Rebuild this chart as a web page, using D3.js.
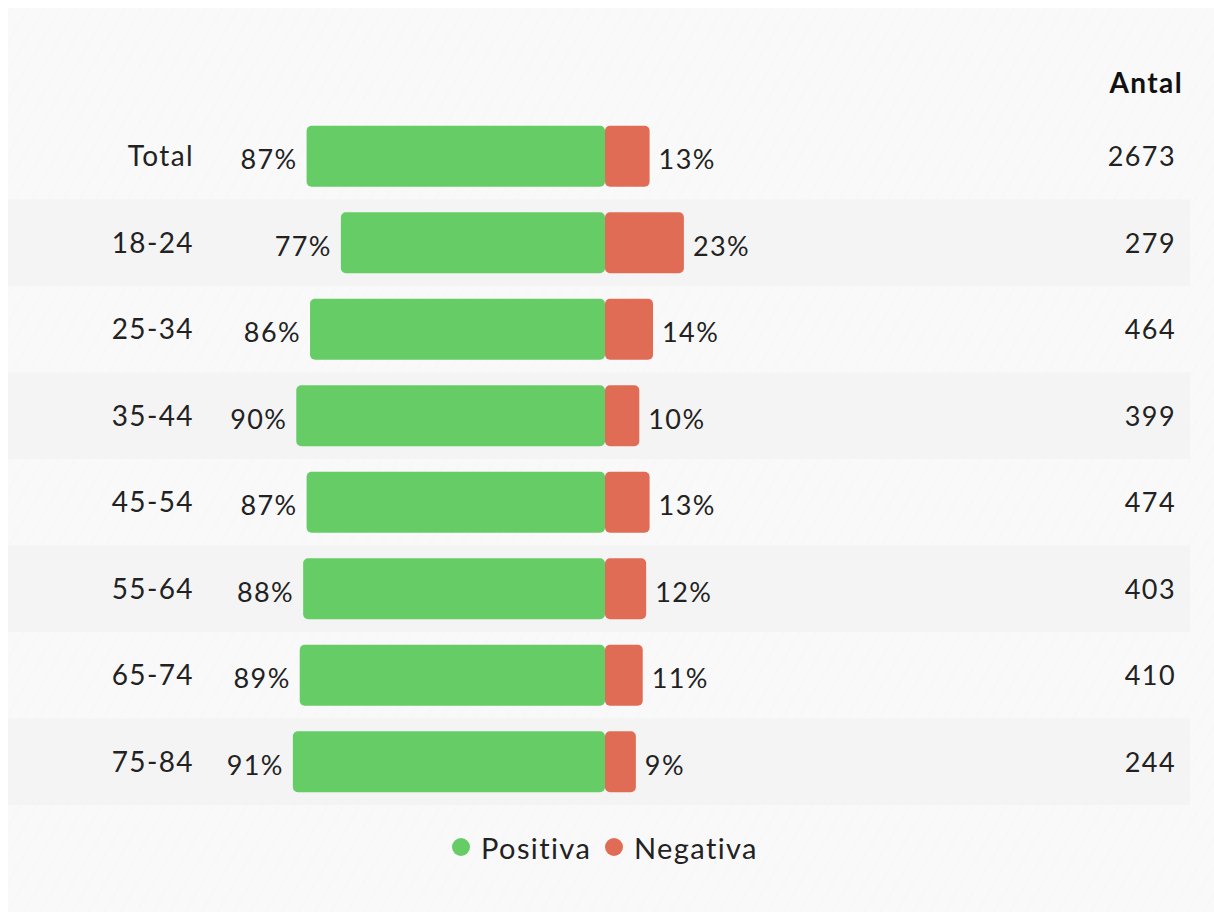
<!DOCTYPE html>
<html>
<head>
<meta charset="utf-8">
<script src="https://cdn.jsdelivr.net/npm/d3@7"></script>
<style>
  body { margin: 0; background: #fff; }
  svg { display: block; font-family: Lato, "Open Sans", sans-serif; }
  text { letter-spacing: 1.4px; }
</style>
</head>
<body>
<script>
const categories = ["Total", "18-24", "25-34", "35-44", "45-54", "55-64", "65-74", "75-84"];
const positive = [87, 77, 86, 90, 87, 88, 89, 91];
const negative = [13, 23, 14, 10, 13, 12, 11, 9];
const antal = [2673, 279, 464, 399, 474, 403, 410, 244];
const series = ["Positiva", "Negativa"];

const width = 1214;
const height = 915;
const colors = { Positiva: "#66cc66", Negativa: "#e06c55" };

const svg = d3.select("body").append("svg")
    .attr("width", width)
    .attr("height", height);

// faint diagonal texture
const defs = svg.append("defs");
const pat = defs.append("pattern")
    .attr("id", "diag")
    .attr("width", 14)
    .attr("height", 14)
    .attr("patternUnits", "userSpaceOnUse")
    .attr("patternTransform", "rotate(30)");
pat.append("rect").attr("width", 14).attr("height", 14).attr("fill", "#f9f9f9");
pat.append("line")
    .attr("x1", 0).attr("y1", 0).attr("x2", 0).attr("y2", 14)
    .attr("stroke", "#f5f5f5").attr("stroke-width", 1.5);

svg.append("rect")
    .attr("x", 8).attr("y", 8)
    .attr("width", width - 8).attr("height", 904)
    .attr("fill", "url(#diag)");

const x = d3.scaleLinear()
    .domain([-100, 100])
    .range([262, 948]);

const y = d3.scaleBand()
    .domain(categories)
    .range([113, 805])
    .paddingInner(0.295)
    .paddingOuter(0.1475);

const rows = categories.map((c, i) => ({
    cat: c, pos: positive[i], neg: negative[i], n: antal[i], i: i
}));

// alternating bands
svg.append("g").selectAll("rect")
    .data(rows.filter(d => d.i % 2 === 1))
    .join("rect")
    .attr("x", 8)
    .attr("width", 1182)
    .attr("y", d => y(d.cat) + y.bandwidth() / 2 - y.step() / 2)
    .attr("height", y.step())
    .attr("fill", "#f2f2f2")
    .attr("opacity", 0.8);

const row = svg.append("g").selectAll("g")
    .data(rows)
    .join("g");

row.append("rect")
    .attr("x", d => x(-d.pos))
    .attr("width", d => x(0) - x(-d.pos))
    .attr("y", d => y(d.cat))
    .attr("height", y.bandwidth())
    .attr("rx", 5)
    .attr("fill", colors.Positiva);

row.append("rect")
    .attr("x", x(0))
    .attr("width", d => x(d.neg) - x(0))
    .attr("y", d => y(d.cat))
    .attr("height", y.bandwidth())
    .attr("rx", 5)
    .attr("fill", colors.Negativa);

const mid = d => y(d.cat) + y.bandwidth() / 2;

row.append("text")
    .attr("x", 194)
    .attr("y", d => mid(d) + 10)
    .attr("text-anchor", "end")
    .attr("font-size", 28)
    .attr("fill", "#222")
    .text(d => d.cat);

row.append("text")
    .attr("x", d => x(-d.pos) - 9)
    .attr("y", d => mid(d) + 13)
    .attr("text-anchor", "end")
    .attr("font-size", 27)
    .attr("fill", "#222")
    .text(d => d.pos + "%");

row.append("text")
    .attr("x", d => x(d.neg) + 9)
    .attr("y", d => mid(d) + 13)
    .attr("text-anchor", "start")
    .attr("font-size", 27)
    .attr("fill", "#222")
    .text(d => d.neg + "%");

row.append("text")
    .attr("x", 1176)
    .attr("y", d => mid(d) + 10)
    .attr("text-anchor", "end")
    .attr("font-size", 27)
    .attr("fill", "#222")
    .text(d => d.n);

svg.append("text")
    .attr("x", 1183)
    .attr("y", 93)
    .attr("text-anchor", "end")
    .attr("font-size", 28)
    .attr("font-weight", "bold")
    .attr("fill", "#111")
    .text("Antal");

// legend
const legendX = [461, 614];
const legend = svg.append("g").selectAll("g")
    .data(series)
    .join("g")
    .attr("transform", (d, i) => `translate(${legendX[i]},847)`);

legend.append("circle")
    .attr("r", 9)
    .attr("fill", d => colors[d]);

legend.append("text")
    .attr("x", 20)
    .attr("y", 12)
    .attr("font-size", 29)
    .attr("fill", "#222")
    .text(d => d);
</script>
</body>
</html>
